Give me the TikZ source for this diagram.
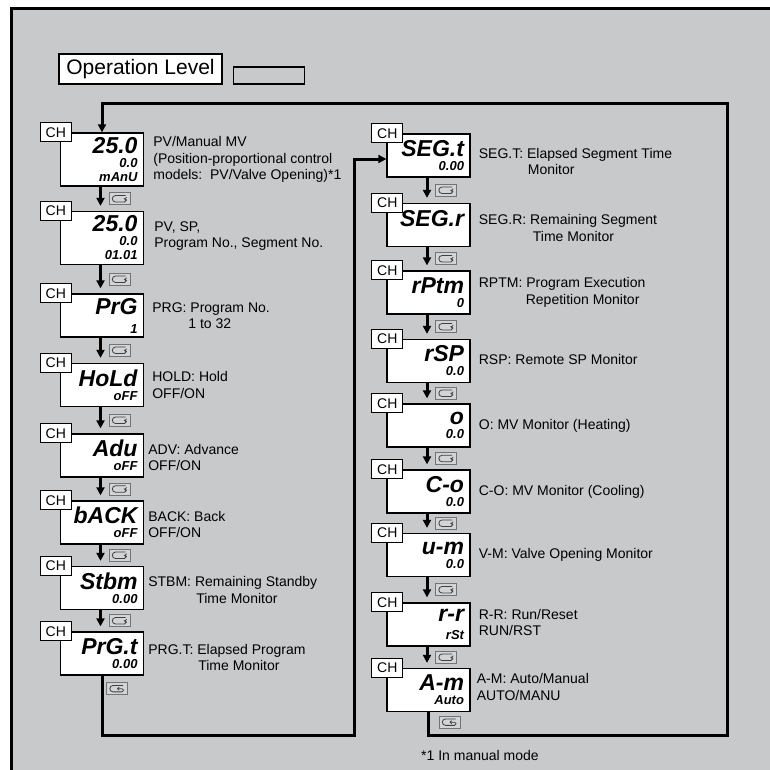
\documentclass[tikz,border=0pt]{standalone}
\usepackage{fontspec}
\setmainfont{Liberation Sans}
\newfontfamily\segfont{Liberation Sans}
\usetikzlibrary{positioning,arrows.meta}
\definecolor{panel}{RGB}{200,201,203}
\newcommand{\segbig}{\fontsize{23}{23}\selectfont}

\begin{document}
\begin{tikzpicture}[
  x=1pt, y=-1pt,
  node distance=68pt,
  disp/.style={draw, line width=1.3pt, fill=white, minimum width=83pt, minimum height=43pt,
    text width=71pt, align=right, inner sep=0pt,
    font=\segfont\bfseries\itshape\fontsize{13}{14}\selectfont},
  tall/.style={minimum height=53pt},
  chtag/.style={draw, line width=1.1pt, fill=white, minimum width=31pt, minimum height=19pt,
    inner sep=0pt, font=\fontsize{14}{14}\selectfont},
  lbl/.style={align=left, inner sep=0pt, font=\fontsize{14}{16.5}\selectfont},
  flow/.style={line width=3pt, shorten >=5pt, -{Triangle[length=8pt,width=8pt]}},
  loopline/.style={line width=3pt, -{Triangle[length=8pt,width=8pt]}},
  key/.style={draw=black!55, fill=panel!80!white, line width=.6pt, minimum width=21pt,
    minimum height=12pt, inner sep=0pt,
    path picture={\draw[black!75, line width=.8pt, -{Straight Barb[length=1.6pt,width=3pt]}]
      ([shift={(6pt,3.2pt)}]path picture bounding box.center) -- ++(-10pt,0pt)
      arc[start angle=90, end angle=270, radius=3.2pt] -- ++(9pt,0pt)
      arc[start angle=-90, end angle=90, radius=1.6pt] -- ++(-5pt,0pt);}}
]
\useasboundingbox (0,0) rectangle (770,769);
\fill[panel] (11,8) rectangle (775,775);
\draw[line width=3pt] (11,775) -- (11,8) -- (775,8);

\node[draw, line width=1.3pt, fill=white, minimum width=163pt, minimum height=30pt, inner sep=0pt,
  font=\fontsize{21}{21}\selectfont] (lvl) at (140.5,69) {Operation Level};
\node[draw, line width=1.3pt, minimum width=71pt, minimum height=17pt, anchor=south west]
  (lvlkey) at ([xshift=10pt]lvl.south east) {};

% left column
\node[disp, tall] (pv) at (102,159.5) {{\segbig 25.0}\\0.0\\mAnU};
\node[disp, tall] (pvsp) [below of=pv, node distance=78.5pt] {{\segbig 25.0}\\0.0\\01.01};
\node[disp] (prg)  [below of=pvsp, node distance=77.5pt] {{\segbig PrG}\\[5pt]1};
\node[disp] (hold) [below of=prg, node distance=69.5pt] {{\segbig HoLd}\\oFF};
\node[disp] (adv)  [below of=hold, node distance=70.5pt] {{\segbig Adu}\\oFF};
\node[disp] (back) [below of=adv, node distance=67pt] {{\segbig bACK}\\oFF};
\node[disp] (stbm) [below of=back, node distance=65.5pt] {{\segbig Stbm}\\0.00};
\node[disp] (prgt) [below of=stbm, node distance=65.5pt] {{\segbig PrG.t}\\0.00};

% right column
\node[disp] (segt) at (428.5,155.5) {{\segbig SEG.t}\\0.00};
\node[disp] (segr) [below of=segt, node distance=69.5pt] {{\segbig SEG.r}\\\mbox{}};
\node[disp] (rptm) [below of=segr, node distance=67.5pt] {{\segbig rPtm}\\0};
\node[disp] (rsp)  [below of=rptm, node distance=68.5pt] {{\segbig rSP}\\0.0};
\node[disp] (mvh)  [below of=rsp, node distance=64.5pt] {{\segbig o}\\0.0};
\node[disp] (mvc)  [below of=mvh, node distance=66pt] {{\segbig C-o}\\0.0};
\node[disp] (vm)   [below of=mvc, node distance=63.5pt] {{\segbig u-m}\\0.0};
\node[disp] (rr)   [below of=vm, node distance=69.5pt] {{\segbig r-r}\\[4pt]rSt};
\node[disp] (am)   [below of=rr, node distance=65.5pt] {{\segbig A-m}\\Auto};

\foreach \n in {pv,pvsp,prg,hold,adv,back,stbm,prgt}
  \node[chtag] (\n-ch) at ([xshift=-4pt]\n.north west) {CH};
\foreach \n in {segt,segr,rptm,rsp,mvh,mvc,vm,rr,am}
  \node[chtag] (\n-ch) at ([xshift=1pt]\n.north west) {CH};

\node[lbl, right=9pt of pv] (pv-l) {PV/Manual MV\\(Position-proportional control\\models:\ \ PV/Valve Opening)*1};
\node[lbl, right=10pt of pvsp, yshift=2pt] (pvsp-l) {PV, SP,\\Program No., Segment No.};
\node[lbl, right=8pt of prg] (prg-l) {PRG: Program No.\\\hspace*{36pt}1 to 32};
\node[lbl, right=8pt of hold] (hold-l) {HOLD: Hold\\OFF/ON};
\node[lbl, right=4pt of adv, yshift=-2pt] (adv-l) {ADV: Advance\\OFF/ON};
\node[lbl, right=4pt of back, yshift=-2pt] (back-l) {BACK: Back\\OFF/ON};
\node[lbl, right=4pt of stbm, yshift=-2pt] (stbm-l) {STBM: Remaining Standby\\\hspace*{48pt}Time Monitor};
\node[lbl, right=4pt of prgt, yshift=-4pt] (prgt-l) {PRG.T: Elapsed Program\\\hspace*{50pt}Time Monitor};

\node[lbl, right=8pt of segt, yshift=-6pt] (segt-l) {SEG.T: Elapsed Segment Time\\\hspace*{49pt}Monitor};
\node[lbl, right=8pt of segr, yshift=-3pt] (segr-l) {SEG.R: Remaining Segment\\\hspace*{54pt}Time Monitor};
\node[lbl, right=8pt of rptm] (rptm-l) {RPTM: Program Execution\\\hspace*{47pt}Repetition Monitor};
\node[lbl, right=8pt of rsp, yshift=2pt] (rsp-l) {RSP: Remote SP Monitor};
\node[lbl, right=8pt of mvh] (mvh-l) {O: MV Monitor (Heating)};
\node[lbl, right=8pt of mvc] (mvc-l) {C-O: MV Monitor (Cooling)};
\node[lbl, right=8pt of vm] (vm-l) {V-M: Valve Opening Monitor};
\node[lbl, right=8pt of rr, yshift=2pt] (rr-l) {R-R: Run/Reset\\RUN/RST};
\node[lbl, right=6pt of am, yshift=3pt] (am-l) {A-M: Auto/Manual\\AUTO/MANU};

\foreach \a/\b in {pv/pvsp,pvsp/prg,prg/hold,hold/adv,adv/back,back/stbm,stbm/prgt,
    segt/segr,segr/rptm,rptm/rsp,rsp/mvh,mvh/mvc,mvc/vm,vm/rr,rr/am}
  \draw[flow] ([xshift=-1.5pt]\a.south) -- node[key, xshift=19pt] (\a-key) {} ([xshift=-1.5pt]\b.north);

\node[key] (prgt-key) at ([xshift=15pt,yshift=-13pt]prgt.south) {};
\node[key] (am-key) at ([xshift=21pt,yshift=-10pt]am.south) {};

\coordinate (rb) at (727,735);
\coordinate (rt) at (727,103);
\coordinate (lb) at (354,735);
\draw[loopline] (am.south) |- (rb) -- (rt) -| (pv.north);
\draw[loopline] (prgt.south) |- (lb) |- ([yshift=-3.5pt]segt.west);

\node[lbl, anchor=west] (note) at (421,755) {*1 In manual mode};
\end{tikzpicture}
\end{document}
